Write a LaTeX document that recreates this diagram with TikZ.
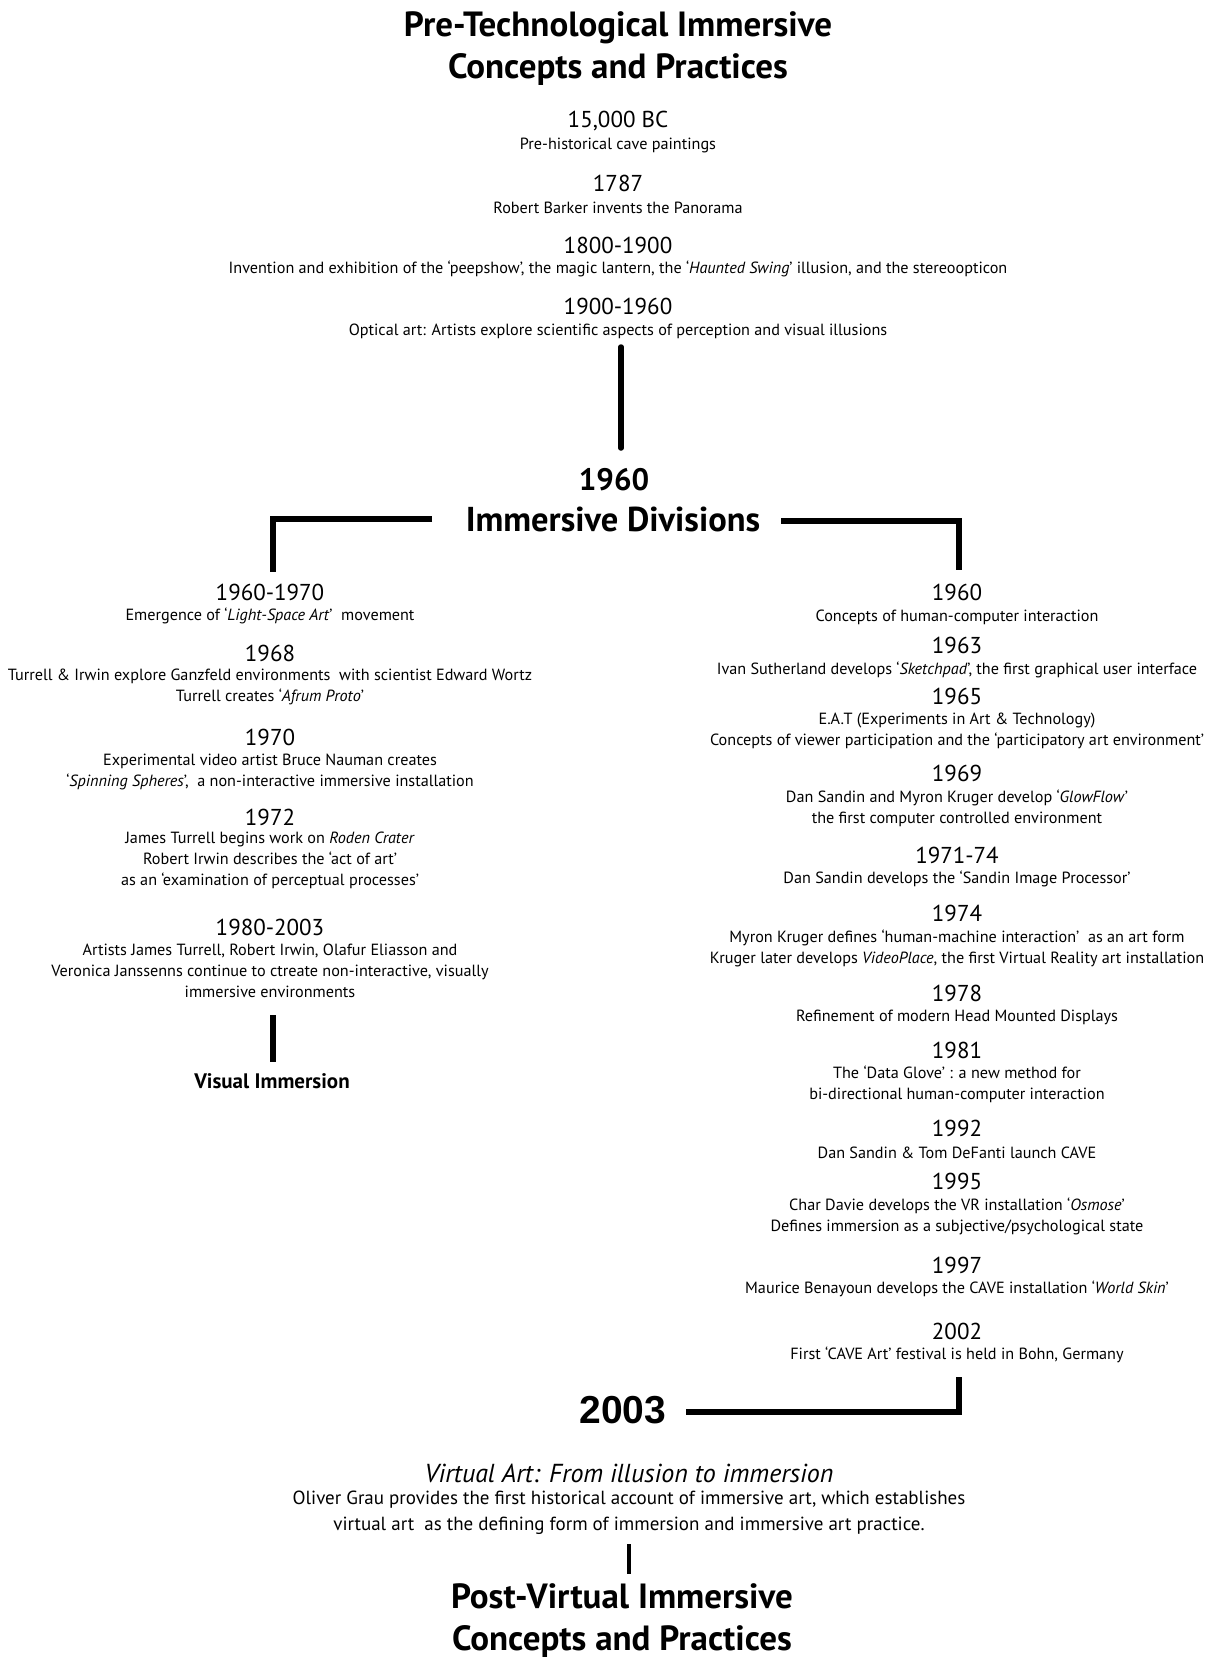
\documentclass[tikz,border=0pt]{standalone}
\usepackage{fontspec}
\setmainfont{PT Sans}
\newfontfamily\arialfont{Liberation Sans}
\begin{document}
\begin{tikzpicture}[x=1pt,y=-1pt,
  every node/.style={inner sep=0pt, align=center},
  ttl/.style={font=\fontsize{35}{42}\selectfont\bfseries},
  yr/.style={font=\fontsize{23}{26}\selectfont},
  ds/.style={font=\fontsize{16.2}{21}\selectfont},
  conn/.style={line width=5.5pt}]
\useasboundingbox[fill=white] (0,0) rectangle (1230,1661);
% top section
\node[ttl] (t1) at (618,49) {Pre-Technological Immersive\\Concepts and Practices};
\node[yr] (y15k) at (618,121) {15,000 BC};
\node[ds] (d15k) at (618,145) {Pre-historical cave paintings};
\node[yr] (y1787) at (618,183) {1787};
\node[ds] (d1787) at (618,208) {Robert Barker invents the Panorama};
\node[yr] (y1800) at (618,245) {1800-1900};
\node[ds] (d1800) at (618,269) {Invention and exhibition of the ‘peepshow’, the magic lantern, the ‘\textit{Haunted Swing}’ illusion, and the stereoopticon};
\node[yr] (y1900) at (618,306) {1900-1960};
\node[ds] (d1900) at (618,331) {Optical art: Artists explore scientific aspects of perception and visual illusions};
% divisions
\node[font=\fontsize{31}{34}\selectfont\bfseries] (y1960) at (614,480) {1960};
\node[font=\fontsize{34.5}{38}\selectfont\bfseries] (idiv) at (613,519) {Immersive Divisions};
% left column
\node[yr] (l1) at (270,592) {1960-1970};
\node[ds] (ld1) at (270,616) {Emergence of ‘\textit{Light-Space Art}’\ \ movement};
\node[yr] (l2) at (270,653) {1968};
\node[ds] (ld2) at (270,686.5) {Turrell \& Irwin explore Ganzfeld environments\ \ with scientist Edward Wortz\\Turrell creates ‘\textit{Afrum Proto}’};
\node[yr] (l3) at (270,737) {1970};
\node[ds] (ld3) at (270,771.5) {Experimental video artist Bruce Nauman creates\\‘\textit{Spinning Spheres}’,\ \ a non-interactive immersive installation};
\node[yr] (l4) at (270,817) {1972};
\node[ds] (ld4) at (270,860) {James Turrell begins work on \textit{Roden Crater}\\Robert Irwin describes the ‘act of art’\\as an ‘examination of perceptual processes’};
\node[yr] (l5) at (270,927) {1980-2003};
\node[ds] (ld5) at (270,971) {Artists James Turrell, Robert Irwin, Olafur Eliasson and\\Veronica Janssenns continue to ctreate non-interactive, visually\\immersive environments};
\node[font=\fontsize{21}{24}\selectfont\bfseries] (vis) at (272,1081) {Visual Immersion};
% right column
\node[yr] (r1) at (957,592) {1960};
\node[ds] (rd1) at (957,617) {Concepts of human-computer interaction};
\node[yr] (r2) at (957,645) {1963};
\node[ds] (rd2) at (957,670) {Ivan Sutherland develops ‘\textit{Sketchpad}’, the first graphical user interface};
\node[yr] (r3) at (957,696) {1965};
\node[ds] (rd3) at (957,731) {E.A.T (Experiments in Art \& Technology)\\Concepts of viewer participation and the ‘participatory art environment’};
\node[yr] (r4) at (957,773) {1969};
\node[ds] (rd4) at (957,808.5) {Dan Sandin and Myron Kruger develop ‘\textit{GlowFlow}’\\the first computer controlled environment};
\node[yr] (r5) at (957,855) {1971-74};
\node[ds] (rd5) at (957,879) {Dan Sandin develops the ‘Sandin Image Processor’};
\node[yr] (r6) at (957,913) {1974};
\node[ds] (rd6) at (957,948.5) {Myron Kruger defines ‘human-machine interaction’\ \ as an art form\\Kruger later develops \textit{VideoPlace}, the first Virtual Reality art installation};
\node[yr] (r7) at (957,993) {1978};
\node[ds] (rd7) at (957,1017) {Refinement of modern Head Mounted Displays};
\node[yr] (r8) at (957,1050) {1981};
\node[ds] (rd8) at (957,1084.5) {The ‘Data Glove’ : a new method for\\bi-directional human-computer interaction};
\node[yr] (r9) at (957,1128) {1992};
\node[ds] (rd9) at (957,1153) {Dan Sandin \& Tom DeFanti launch CAVE};
\node[yr] (r10) at (957,1181) {1995};
\node[ds] (rd10) at (957,1216.5) {Char Davie develops the VR installation ‘\textit{Osmose}’\\Defines immersion as a subjective/psychological state};
\node[yr] (r11) at (957,1265) {1997};
\node[ds] (rd11) at (957,1289) {Maurice Benayoun develops the CAVE installation ‘\textit{World Skin}’};
\node[yr] (r12) at (957,1331) {2002};
\node[ds] (rd12) at (957,1355) {First ‘CAVE Art’ festival is held in Bohn, Germany};
% bottom
\node[font=\fontsize{39}{42}\selectfont\arialfont\bfseries] (y2003) at (623,1410) {2003};
\node[font=\fontsize{26}{30}\selectfont\itshape] (va) at (629,1473) {Virtual Art: From illusion to immersion};
\node[font=\fontsize{19}{26}\selectfont] (grau) at (629,1513) {Oliver Grau provides the first historical account of immersive art, which establishes\\virtual art\ \ as the defining form of immersion and immersive art practice.};
\node[ttl] (post) at (622,1621) {Post-Virtual Immersive\\Concepts and Practices};
% connectors
\draw[conn, line cap=round, shorten <=16pt, shorten >=32pt] ([xshift=3pt]d1900.center) -- ([xshift=3pt]d1900.center |- y1960.center);
\draw[conn] ([xshift=-181pt]idiv.center) -| ([xshift=3pt,yshift=20pt]l1.center);
\draw[conn] ([xshift=168pt,yshift=-2pt]idiv.center) -| ([xshift=2pt,yshift=22pt]r1.center);
\draw[conn, shorten <=44pt, shorten >=19pt] ([xshift=3pt]ld5.center) -- ([xshift=3pt]ld5.center |- vis.center);
\draw[conn] ([xshift=2pt,yshift=-22pt]rd12.center) |- ([xshift=63pt,yshift=-2pt]y2003.center);
\draw[conn, line width=4.5pt, shorten <=31pt, shorten >=47pt] (grau.center) -- (grau.center |- post.center);
\end{tikzpicture}
\end{document}
